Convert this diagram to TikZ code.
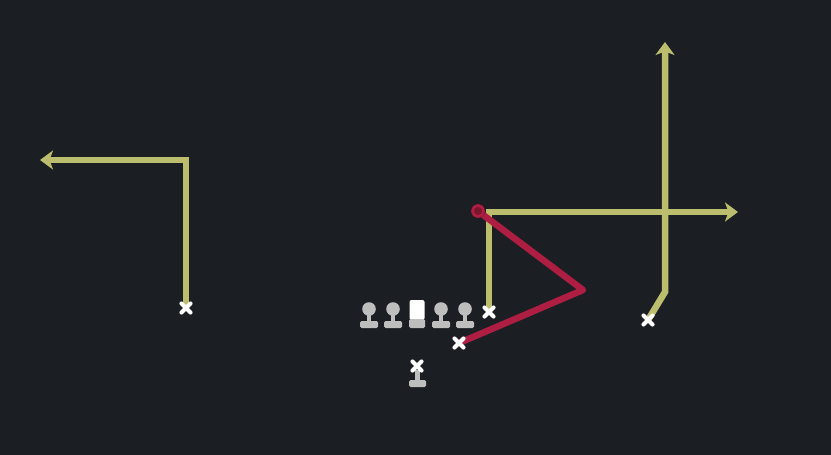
\documentclass[tikz,border=0pt]{standalone}
\usetikzlibrary{arrows.meta}
\definecolor{bgc}{HTML}{1B1E23}
\definecolor{routey}{HTML}{BDBD6E}
\definecolor{router}{HTML}{AE1E42}
\definecolor{plgrey}{HTML}{BEBEBE}
\begin{document}
\begin{tikzpicture}[x=1pt,y=-1pt,
  route/.style={draw=routey,line width=6.5pt,line join=miter},
  redroute/.style={draw=router,line width=6.5pt,line join=round,line cap=round},
  tip/.style={-{Stealth[length=13pt,width=19pt,inset=3.5pt]}},
  xmark/.pic={\draw[white,line width=4.2pt,line cap=round] (-4.5,-4.5)--(4.5,4.5) (-4.5,4.5)--(4.5,-4.5);},
  lineman/.pic={\fill[plgrey] (0,-17) circle (6.8);
                \fill[plgrey] (-2,-12) rectangle (2,-2);
                \fill[plgrey,rounded corners=1.5pt] (-9,-5) rectangle (9,2);},
  center/.pic={\fill[white,rounded corners=2pt] (-7.5,-26) rectangle (7.5,-6);
               \fill[plgrey,rounded corners=1.5pt] (-8,-7) rectangle (8,2);},
]
\fill[bgc] (0,0) rectangle (831,455);
\useasboundingbox (0,0) rectangle (831,455);

% left receiver
\coordinate (wl) at (186,308);
\coordinate (wlc) at (186,160);
\coordinate (wle) at (40,160);
\draw[route,tip] (wl) -- (wlc) -- (wle);
\pic at (wl) {xmark};

% slot receiver
\coordinate (sl) at (489,312);
\coordinate (slc) at (489,212);
\coordinate (sle) at (738,212);
\draw[route,tip] (sl) -- (slc) -- (sle);
\pic at (sl) {xmark};

% right receiver
\coordinate (wr) at (648,320);
\coordinate (wrb) at (665,292);
\coordinate (wre) at (665,42);
\draw[route,tip] (wr) -- (wrb) -- (wre);
\pic at (wr) {xmark};

% running back red route
\coordinate (rb) at (459,343);
\coordinate (rbm) at (583,290);
\coordinate (rbe) at (478,211);
\draw[redroute] (rb) -- (rbm) -- (rbe);
\fill[router!70!black] (rbe) circle (7);
\draw[router,line width=2.5pt] (rbe) circle (5.5);
\pic at (rb) {xmark};

% line
\pic at (369,326) {lineman};
\pic at (393,326) {lineman};
\pic at (417,326) {center};
\pic at (441,326) {lineman};
\pic at (465,326) {lineman};

% quarterback
\coordinate (qb) at (417,366);
\fill[plgrey] (414.5,370) rectangle (419.5,382);
\fill[plgrey,rounded corners=1.5pt] (409,380) rectangle (426,387);
\pic at (qb) {xmark};
\end{tikzpicture}
\end{document}
